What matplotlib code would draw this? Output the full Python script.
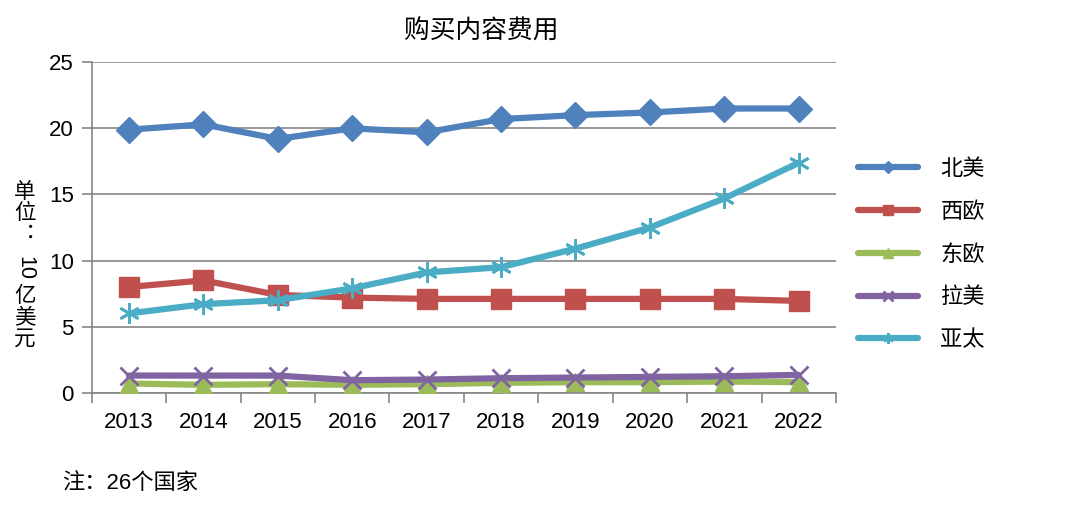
import matplotlib
matplotlib.use('Agg')
import matplotlib.pyplot as plt

plt.rcParams['font.family'] = ['Liberation Sans', 'Noto Sans CJK SC', 'DejaVu Sans']

years = ['2013', '2014', '2015', '2016', '2017', '2018', '2019', '2020', '2021', '2022']
north_america = [19.9, 20.3, 19.2, 20.0, 19.7, 20.7, 21.0, 21.2, 21.5, 21.5]
west_europe = [8.0, 8.5, 7.4, 7.2, 7.1, 7.1, 7.1, 7.1, 7.1, 6.95]
east_europe = [0.7, 0.6, 0.65, 0.6, 0.65, 0.75, 0.8, 0.8, 0.85, 0.8]
latin_america = [1.3, 1.3, 1.3, 0.95, 1.0, 1.1, 1.15, 1.2, 1.25, 1.35]
asia_pacific = [6.0, 6.7, 7.0, 7.9, 9.1, 9.5, 10.9, 12.5, 14.7, 17.4]

series = [
    ('北美', north_america, '#4F81BD', 'D', 13),
    ('西欧', west_europe, '#C0504D', 's', 15),
    ('东欧', east_europe, '#9BBB59', '^', 13),
    ('拉美', latin_america, '#8064A2', 'x', 13),
    ('亚太', asia_pacific, '#4BACC6', (6, 2, 0), 15),
]

fig = plt.figure(figsize=(10.8, 5.23), dpi=100)
ax = fig.add_axes([0.085, 0.249, 0.689, 0.632])

x = list(range(len(years)))
for name, vals, color, marker, ms in series:
    ax.plot(x, vals, color=color, lw=4.5, marker=marker, markersize=ms,
            markeredgewidth=2 if marker in ('x', (6, 2, 0)) else 1,
            markeredgecolor=color, label=name, solid_capstyle='round', zorder=3)

ax.set_xlim(-0.5, len(years) - 0.5)
ax.set_ylim(0, 25)
ax.set_yticks([0, 5, 10, 15, 20, 25])
ax.set_xticks(x)
ax.set_xticklabels(years)
ax.set_xticks([i - 0.5 for i in range(len(years) + 1)], minor=True)
ax.tick_params(axis='x', which='major', length=0, pad=14, labelsize=16)
ax.tick_params(axis='x', which='minor', length=7, color='#868686', width=1.2)
ax.tick_params(axis='y', length=7, color='#868686', width=1.2, labelsize=16, pad=6)

ax.grid(axis='y', color='#868686', lw=1.2, zorder=0)
ax.spines['top'].set_visible(False)
ax.spines['right'].set_visible(False)
ax.spines['left'].set_color('#868686')
ax.spines['bottom'].set_color('#868686')
ax.spines['left'].set_linewidth(1.2)
ax.spines['bottom'].set_linewidth(1.2)

fig.text(481 / 1080, 1 - 32 / 523, '购买内容费用', ha='center', va='center', fontsize=18.5)

# vertical y-axis label
fig.text(0.023, 1 - 214 / 523, '单\n位\n\uFE13', ha='center', va='center', fontsize=15.5, linespacing=1.0)
fig.text(0.023, 1 - 268 / 523, '10', ha='center', va='center', fontsize=15.5, rotation=270)
fig.text(0.023, 1 - 318 / 523, '亿\n美\n元', ha='center', va='center', fontsize=15.5, linespacing=1.0)

fig.text(62 / 1080, 1 - 483 / 523, '注：26个国家', ha='left', va='center', fontsize=16)

leg = fig.legend(loc='center left', bbox_to_anchor=(858 / 1080, 1 - 255 / 523), frameon=False,
                 markerscale=0.5, handlelength=2.7, labelspacing=0.98,
                 handletextpad=1.0, fontsize=16, borderpad=0, borderaxespad=0)

fig.savefig('out.png', dpi=100)
